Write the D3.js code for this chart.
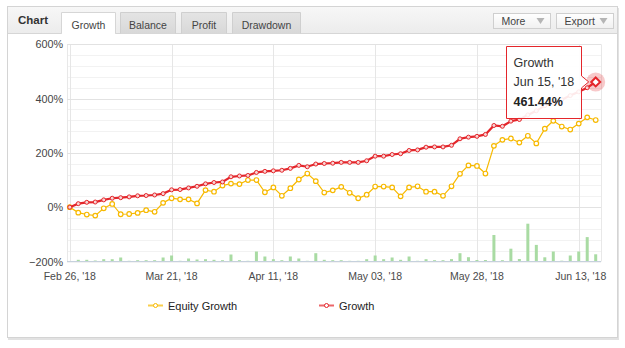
<!DOCTYPE html>
<html lang="en">
<head>
  <meta charset="UTF-8">
  <title>Growth chart</title>
  <script src="https://d3js.org/d3.v7.min.js"></script>
  <style>
    body { margin: 0; background: #fff; font-family: "Liberation Sans", Arial, sans-serif; }
    svg text { font-family: "Liberation Sans", Arial, sans-serif; }
  </style>
</head>
<body>
<svg id="chart" width="625" height="348"></svg>
<script>
  // tick labels on the category axis (every 12th point)
  const tickLabels = ["Feb 26, '18", "Mar 21, '18", "Apr 11, '18", "May 03, '18", "May 28, '18", "Jun 13, '18"];
  const tickIndex = [0, 12, 24, 36, 48, 60];

  // growth, %
  const growth = [0, 13, 18, 19, 27, 33, 35, 38, 42, 43, 45, 50, 64, 65, 71, 77,
    86, 91, 93, 112, 115, 117, 128, 132, 134, 136, 143, 154, 149, 159,
    161, 162, 165, 165, 165, 171, 188, 188, 194, 197, 209, 211, 221, 222, 222, 228,
    252, 258, 261, 268, 301, 298, 317, 323, 340, 355, 374, 385, 396, 411, 425, 440, 461.44];

  // equity growth, %
  const equity = [0, -20, -27, -31, -4, 12, -26, -25, -21, -11, -17, 16, 33, 29, 29, 14,
    63, 57, 80, 87, 85, 100, 100, 55, 73, 42, 70, 102, 124, 96,
    54, 62, 75, 53, 33, 46, 76, 76, 73, 40, 73, 77, 57, 57, 42, 77,
    123, 154, 152, 124, 226, 248, 253, 238, 263, 235, 289, 318, 297, 286, 308, 331, 321];

  // green bars at the bottom (no visible axis)
  const bars = [0, 1.7, 1.7, 1, 2.3, 2.3, 4, 0.7, 1.3, 1.3, 1.3, 4, 6, 0.7, 3, 2,
    2.3, 1.7, 1.3, 7, 1.3, 0.7, 10, 5, 2.3, 1.3, 5, 3, 0.7, 8.3,
    1.7, 1.3, 1.3, 0.7, 0.7, 2.3, 6, 2.3, 4, 1.7, 5, 0.7, 2.3, 1.3, 1.3, 2.4,
    8.3, 4.3, 1.5, 1.5, 26.5, 1.3, 12.8, 2.5, 37.8, 16.6, 4.2, 10, 0.8, 6, 10, 24.4, 7.2];

  const yTicks = [-200, 0, 200, 400, 600];
  const minorTicks = d3.range(-200, 601, 40);
  const legendNames = ["Equity Growth", "Growth"];
  const tabNames = ["Growth", "Balance", "Profit", "Drawdown"];

  const red = "#e4262b", yellow = "#f7b900", barColor = "#a9dba3";

  const svg = d3.select("#chart");

  // ---- outer panel ----
  const defs = svg.append("defs");
  const hg = defs.append("linearGradient").attr("id", "hdr").attr("x1", 0).attr("y1", 0).attr("x2", 0).attr("y2", 1);
  hg.append("stop").attr("offset", "0%").attr("stop-color", "#f7f7f7");
  hg.append("stop").attr("offset", "100%").attr("stop-color", "#ececec");
  const tg = defs.append("linearGradient").attr("id", "tab").attr("x1", 0).attr("y1", 0).attr("x2", 0).attr("y2", 1);
  tg.append("stop").attr("offset", "0%").attr("stop-color", "#e4e4e4");
  tg.append("stop").attr("offset", "100%").attr("stop-color", "#d8d8d8");
  const bg = defs.append("linearGradient").attr("id", "btn").attr("x1", 0).attr("y1", 0).attr("x2", 0).attr("y2", 1);
  bg.append("stop").attr("offset", "0%").attr("stop-color", "#ffffff");
  bg.append("stop").attr("offset", "100%").attr("stop-color", "#f0f0f0");

  svg.append("rect").attr("x", 8).attr("y", 8).attr("width", 611).attr("height", 332).attr("fill", "#e2e2e2");
  svg.append("rect").attr("x", 7.5).attr("y", 6.5).attr("width", 610).attr("height", 331)
    .attr("fill", "#fff").attr("stroke", "#d4d4d4");
  svg.append("rect").attr("x", 8).attr("y", 7).attr("width", 609).attr("height", 26).attr("fill", "url(#hdr)");
  svg.append("line").attr("x1", 8).attr("x2", 617).attr("y1", 33.5).attr("y2", 33.5).attr("stroke", "#d6d6d6");

  svg.append("text").attr("x", 18).attr("y", 24).attr("font-size", 11.5).attr("font-weight", "bold")
    .attr("fill", "#333").text("Chart");

  const tabX = [61.5, 120.5, 181.5, 232.5];
  const tabW = [54, 55, 45, 68];
  tabNames.forEach((t, i) => {
    const active = i === 0;
    svg.append("path")
      .attr("d", `M${tabX[i]},33.5 V12.5 H${tabX[i] + tabW[i]} V33.5`)
      .attr("fill", active ? "#fff" : "url(#tab)")
      .attr("stroke", active ? "#d6d6d6" : "#cfcfcf");
    if (active) {
      svg.append("line").attr("x1", tabX[i] + 0.5).attr("x2", tabX[i] + tabW[i] - 0.5)
        .attr("y1", 33.5).attr("y2", 33.5).attr("stroke", "#fff");
    }
    svg.append("text").attr("x", tabX[i] + tabW[i] / 2).attr("y", 28.5)
      .attr("text-anchor", "middle").attr("font-size", 10.5).attr("fill", "#444").text(t);
  });

  [["More", 493.5, 57], ["Export", 556.5, 57]].forEach(b => {
    svg.append("rect").attr("x", b[1]).attr("y", 13.5).attr("width", b[2]).attr("height", 15)
      .attr("fill", "url(#btn)").attr("stroke", "#cfcfcf");
    svg.append("text").attr("x", b[1] + 8).attr("y", 24.5).attr("font-size", 10.5).attr("fill", "#444").text(b[0]);
    const ax = b[1] + b[2] - 10;
    svg.append("path").attr("d", `M${ax - 4},18 L${ax + 4},18 L${ax},24 Z`).attr("fill", "#b5b5b5");
  });

  // ---- plot ----
  const x = d3.scaleLinear().domain([0, growth.length - 1]).range([69.8, 595.7]);
  const y = d3.scaleLinear().domain([-200, 600]).range([261.5, 44.3]);
  const yBar = d3.scaleLinear().domain([0, 40]).range([261.5, 221.5]);
  const plotL = 67, plotR = 601;

  // minor grid
  svg.append("g").selectAll("line").data(minorTicks).join("line")
    .attr("x1", plotL).attr("x2", plotR)
    .attr("y1", d => Math.round(y(d)) + 0.5).attr("y2", d => Math.round(y(d)) + 0.5)
    .attr("stroke", "#f2f2f2");
  // vertical grid
  svg.append("g").selectAll("line").data(tickIndex).join("line")
    .attr("x1", d => Math.round(x(d)) + 0.5).attr("x2", d => Math.round(x(d)) + 0.5)
    .attr("y1", y(600)).attr("y2", y(-200))
    .attr("stroke", "#e6e6e6");
  svg.append("line").attr("x1", plotL + 0.5).attr("x2", plotL + 0.5).attr("y1", y(600)).attr("y2", y(-200)).attr("stroke", "#e8e8e8");
  svg.append("line").attr("x1", plotR + 0.5).attr("x2", plotR + 0.5).attr("y1", y(600)).attr("y2", y(-200)).attr("stroke", "#e8e8e8");
  // major grid
  svg.append("g").selectAll("line").data(yTicks.slice(1)).join("line")
    .attr("x1", plotL).attr("x2", plotR)
    .attr("y1", d => Math.round(y(d)) + 0.5).attr("y2", d => Math.round(y(d)) + 0.5)
    .attr("stroke", "#e2e2e2");

  // y labels
  svg.append("g").selectAll("text").data(yTicks).join("text")
    .attr("x", 63).attr("y", d => y(d) + 4)
    .attr("text-anchor", "end").attr("font-size", 10.8).attr("fill", "#444")
    .text(d => (d < 0 ? "\u2212" + Math.abs(d) : d) + "%");

  // x labels
  svg.append("g").selectAll("text").data(tickIndex).join("text")
    .attr("x", (d, i) => i === tickLabels.length - 1 ? x(d) + 2 : x(d))
    .attr("y", 280).attr("text-anchor", "middle").attr("font-size", 10.5).attr("fill", "#4a4a4a")
    .text((d, i) => tickLabels[i]);

  // bars
  svg.append("g").selectAll("rect").data(bars).join("rect")
    .attr("x", (d, i) => x(i) - 1.5).attr("width", 3)
    .attr("y", d => yBar(d)).attr("height", d => yBar(0) - yBar(d))
    .attr("fill", barColor);

  // bottom axis line
  svg.append("line").attr("x1", plotL).attr("x2", plotR).attr("y1", 261.5).attr("y2", 261.5).attr("stroke", "#c6d1dd");

  // equity line
  const line = d3.line().x((d, i) => x(i)).y(d => y(d));
  svg.append("path").datum(equity).attr("d", line)
    .attr("fill", "none").attr("stroke", yellow).attr("stroke-width", 1.2);
  svg.append("g").selectAll("circle").data(equity).join("circle")
    .attr("cx", (d, i) => x(i)).attr("cy", d => y(d)).attr("r", 2.3)
    .attr("fill", "#fff").attr("stroke", yellow).attr("stroke-width", 1.2);

  // growth line
  svg.append("path").datum(growth).attr("d", line)
    .attr("fill", "none").attr("stroke", red).attr("stroke-width", 2.2);
  svg.append("g").selectAll("circle").data(growth.slice(0, -1)).join("circle")
    .attr("cx", (d, i) => x(i)).attr("cy", d => y(d)).attr("r", 2)
    .attr("fill", "#f9d4d4").attr("stroke", red).attr("stroke-width", 1);

  // hovered point
  const lastI = growth.length - 1;
  const hx = x(lastI), hy = y(growth[lastI]);
  svg.append("circle").attr("cx", hx).attr("cy", hy).attr("r", 9.5).attr("fill", red).attr("fill-opacity", 0.25);
  svg.append("path").attr("d", `M${hx},${hy - 4.5} L${hx + 4.5},${hy} L${hx},${hy + 4.5} L${hx - 4.5},${hy} Z`)
    .attr("fill", "#fff").attr("stroke", red).attr("stroke-width", 2);

  // tooltip
  const tx = 506.5, ty = 46.5, tw = 75, th = 72;
  svg.append("path")
    .attr("d", `M${tx},${ty} H${tx + tw} V${hy - 6} L${hx - 7},${hy} L${tx + tw},${hy + 6} V${ty + th} H${tx} Z`)
    .attr("fill", "#fff").attr("fill-opacity", 0.9).attr("stroke", red).attr("stroke-width", 1);
  svg.append("text").attr("x", tx + 7).attr("y", ty + 20).attr("font-size", 12.5).attr("fill", "#333").text("Growth");
  svg.append("text").attr("x", tx + 7).attr("y", ty + 39.5).attr("font-size", 12.5).attr("fill", "#333").text("Jun 15, '18");
  svg.append("text").attr("x", tx + 7).attr("y", ty + 59.5).attr("font-size", 12.5).attr("font-weight", "bold")
    .attr("fill", "#222").text(d3.format(".2f")(growth[lastI]) + "%");

  // legend
  const legX = [148, 319];
  const legCol = [yellow, red];
  legendNames.forEach((n, i) => {
    svg.append("line").attr("x1", legX[i]).attr("x2", legX[i] + 15).attr("y1", 305.5).attr("y2", 305.5)
      .attr("stroke", legCol[i]).attr("stroke-width", 2).attr("stroke-opacity", 0.7);
    svg.append("circle").attr("cx", legX[i] + 7.5).attr("cy", 305.5).attr("r", 2)
      .attr("fill", "#fff").attr("stroke", legCol[i]).attr("stroke-width", 1);
    svg.append("text").attr("x", legX[i] + 20).attr("y", 309.5).attr("font-size", 11)
      .attr("fill", "#222").text(n);
  });
</script>
</body>
</html>
